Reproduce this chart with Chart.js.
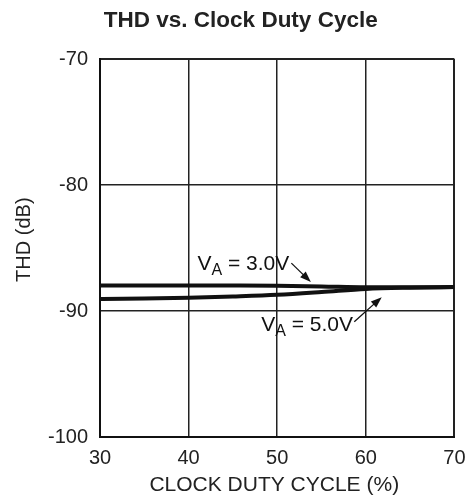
<!DOCTYPE html>
<html>
<head>
<meta charset="utf-8">
<script src="https://cdn.jsdelivr.net/npm/chart.js@4"></script>
<style>
  html, body { margin: 0; padding: 0; background: #fff; }
  #wrap { width: 475px; height: 504px; }
</style>
</head>
<body>
<div id="wrap"><canvas id="chart" width="475" height="504"></canvas></div>
<script>
const dutyCycle = [30, 35, 40, 45, 50, 55, 60, 65, 70];
const thdVa3 = [-87.97, -87.97, -87.97, -87.98, -88.0, -88.05, -88.12, -88.12, -88.1];
const thdVa5 = [-89.05, -89.0, -88.95, -88.85, -88.72, -88.5, -88.25, -88.15, -88.1];
const xTicks = [30, 40, 50, 60, 70];
const yTicks = [-100, -90, -80, -70];

// label anchors in data units: [textX, textY, arrowFromX, arrowFromY, arrowToX, arrowToY]
const labelVa3 = ['3.0V', 41.0, -86.75, 51.6, -86.2, 53.8, -87.7];
const labelVa5 = ['5.0V', 48.2, -91.6, 58.7, -90.85, 61.8, -88.9];

const FONT = "'Liberation Sans', Arial, sans-serif";

const labelPlugin = {
  id: 'vaLabels',
  afterDatasetsDraw(chart) {
    const {ctx, scales: {x, y}} = chart;
    ctx.save();
    ctx.fillStyle = '#111';
    ctx.strokeStyle = '#111';
    for (const [txt, tx, ty, ax, ay, bx, by] of [labelVa3, labelVa5]) {
      let px = x.getPixelForValue(tx);
      const py = y.getPixelForValue(ty);
      ctx.textBaseline = 'alphabetic';
      ctx.textAlign = 'left';
      ctx.font = `21px ${FONT}`;
      ctx.fillText('V', px, py);
      px += ctx.measureText('V').width;
      ctx.font = `16px ${FONT}`;
      ctx.fillText('A', px, py + 5);
      px += ctx.measureText('A').width;
      ctx.font = `21px ${FONT}`;
      ctx.fillText(' = ' + txt, px, py);

      const x1 = x.getPixelForValue(ax), y1 = y.getPixelForValue(ay);
      const x2 = x.getPixelForValue(bx), y2 = y.getPixelForValue(by);
      const ang = Math.atan2(y2 - y1, x2 - x1);
      ctx.lineWidth = 1.3;
      ctx.beginPath();
      ctx.moveTo(x1, y1);
      ctx.lineTo(x2 - 6 * Math.cos(ang), y2 - 6 * Math.sin(ang));
      ctx.stroke();
      const len = 11, half = 4;
      ctx.beginPath();
      ctx.moveTo(x2, y2);
      ctx.lineTo(x2 - len * Math.cos(ang) + half * Math.sin(ang), y2 - len * Math.sin(ang) - half * Math.cos(ang));
      ctx.lineTo(x2 - len * Math.cos(ang) - half * Math.sin(ang), y2 - len * Math.sin(ang) + half * Math.cos(ang));
      ctx.closePath();
      ctx.fill();
    }
    ctx.restore();
  }
};

const gridWidth = (c) => {
  const v = c.tick && c.tick.value;
  return (v === 30 || v === 70 || v === -70 || v === -100) ? 2 : 1.5;
};

new Chart(document.getElementById('chart'), {
  type: 'line',
  data: {
    datasets: [
      {
        label: 'VA = 3.0V',
        data: dutyCycle.map((d, i) => ({x: d, y: thdVa3[i]})),
        borderColor: '#111',
        borderWidth: 4,
        pointRadius: 0,
        cubicInterpolationMode: 'monotone'
      },
      {
        label: 'VA = 5.0V',
        data: dutyCycle.map((d, i) => ({x: d, y: thdVa5[i]})),
        borderColor: '#111',
        borderWidth: 4,
        pointRadius: 0,
        cubicInterpolationMode: 'monotone'
      }
    ]
  },
  options: {
    responsive: false,
    animation: false,
    layout: { padding: { left: 0, right: 18.5, top: 0, bottom: 0 } },
    plugins: {
      legend: { display: false },
      tooltip: { enabled: false },
      title: {
        display: true,
        text: '    THD vs. Clock Duty Cycle',
        color: '#222',
        font: { family: FONT, size: 22.5, weight: 'bold' },
        padding: { top: 7.2, bottom: 24.8 }
      }
    },
    scales: {
      x: {
        type: 'linear',
        min: 30,
        max: 70,
        afterBuildTicks: (s) => { s.ticks = xTicks.map(v => ({value: v})); },
        afterFit: (s) => { s.height = 67; },
        grid: { color: '#222', lineWidth: gridWidth, drawTicks: false },
        border: { color: '#111', width: 2 },
        ticks: { color: '#222', padding: 9.5, font: { family: FONT, size: 20 } },
        title: {
          display: true,
          text: 'CLOCK DUTY CYCLE (%) ',
          color: '#222',
          font: { family: FONT, size: 21 },
          padding: { top: 0, bottom: 5.9 }
        }
      },
      y: {
        type: 'linear',
        min: -100,
        max: -70,
        afterBuildTicks: (s) => { s.ticks = yTicks.map(v => ({value: v})); },
        afterFit: (s) => { s.width = 100; },
        grid: { color: '#222', lineWidth: gridWidth, drawTicks: false },
        border: { color: '#111', width: 2 },
        ticks: { color: '#222', padding: 12, font: { family: FONT, size: 20 } },
        title: {
          display: true,
          text: '   THD (dB)',
          color: '#222',
          font: { family: FONT, size: 20 },
          padding: { top: 12, bottom: 0 }
        }
      }
    }
  },
  plugins: [labelPlugin]
});
</script>
</body>
</html>
